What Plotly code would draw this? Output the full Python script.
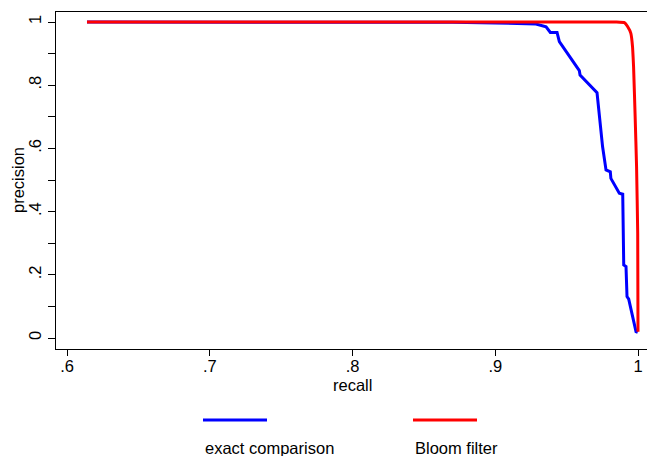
import plotly.graph_objects as go

# exact comparison (blue)
exact_recall = [0.614, 0.80, 0.87, 0.90, 0.92, 0.9285, 0.9356, 0.9386, 0.9433, 0.9449,
                0.9589, 0.9594, 0.9713, 0.9717, 0.9752, 0.9776, 0.9806, 0.9810, 0.9869,
                0.9893, 0.9900, 0.9916, 0.9923, 0.9935, 0.9986, 0.9998]
exact_precision = [1.0, 1.0, 0.999, 0.997, 0.996, 0.9937, 0.985, 0.967, 0.967, 0.938,
                   0.846, 0.832, 0.776, 0.758, 0.605, 0.532, 0.526, 0.505, 0.458,
                   0.455, 0.231, 0.226, 0.131, 0.123, 0.020, 0.018]

# Bloom filter (red)
bloom_recall = [0.614, 0.80, 0.90, 0.985, 0.9905, 0.9927, 0.9950, 0.9962, 0.9969,
                0.9980, 0.9990, 0.9998, 1.0]
bloom_precision = [1.0, 1.0, 1.0, 1.0, 0.998, 0.9855, 0.964, 0.92, 0.859,
                   0.700, 0.542, 0.331, 0.020]

series_names = ["exact comparison", "Bloom filter"]
series_colors = ["#0000FF", "#FF0000"]

x_tickvals = [0.6, 0.7, 0.8, 0.9, 1.0]
x_ticktext = [".6", ".7", ".8", ".9", "1"]
y_tickvals = [0, 0.2, 0.4, 0.6, 0.8, 1.0]
y_ticktext = ["0", ".2", ".4", ".6", ".8", "1"]
y_minor = [0.1, 0.3, 0.5, 0.7, 0.9]

FONT = "Liberation Sans, Arial, sans-serif"
FS = 16.5

fig = go.Figure()
fig.add_trace(go.Scatter(x=exact_recall, y=exact_precision, mode="lines",
                         line=dict(color=series_colors[0], width=3),
                         name=series_names[0], showlegend=False))
fig.add_trace(go.Scatter(x=bloom_recall, y=bloom_precision, mode="lines",
                         line=dict(color=series_colors[1], width=3, shape="spline", smoothing=0.3),
                         name=series_names[1], showlegend=False))

W, H = 647, 456
L, R, T, B = 56, 0, 12, 107
pw, ph = W - L - R, H - T - B

def px(xp):
    return (xp - L) / pw

def py(yp):
    return (H - B - yp) / ph

fig.update_layout(
    width=W, height=H,
    margin=dict(l=L, r=R, t=T, b=B),
    paper_bgcolor="white", plot_bgcolor="white",
    font=dict(family=FONT, size=FS, color="#000000"),
    showlegend=False,
)
fig.update_xaxes(
    range=[0.6 - 11 / 1427.5, 1 + 9 / 1427.5],
    tickvals=x_tickvals, ticktext=x_ticktext,
    ticks="outside", ticklen=6, tickwidth=1, tickcolor="#000000",
    ticklabelstandoff=-4,
    showline=True, linecolor="#000000", linewidth=1.2, mirror=True,
    showgrid=False, zeroline=False,
    tickfont=dict(family=FONT, size=FS),
)
fig.update_yaxes(
    range=[-(349 - 338) / 316, 1 + (22 - 12) / 316],
    tickvals=y_tickvals, ticktext=y_ticktext, tickangle=-90,
    ticks="outside", ticklen=7, tickwidth=1, tickcolor="#000000",
    minor=dict(tickvals=y_minor, ticks="outside", ticklen=7, tickwidth=1, tickcolor="#000000"),
    showline=True, linecolor="#000000", linewidth=1.2,
    showgrid=False, zeroline=False,
    tickfont=dict(family=FONT, size=FS),
)

annotations = [
    dict(text="precision", x=px(18), y=py(180), xref="paper", yref="paper",
         textangle=-90, showarrow=False, xanchor="center", yanchor="middle",
         font=dict(family=FONT, size=FS)),
    dict(text="recall", x=px(352), y=py(385), xref="paper", yref="paper",
         showarrow=False, xanchor="center", yanchor="middle",
         font=dict(family=FONT, size=FS)),
]
shapes = []
legend_x = [203, 413]
for i, name in enumerate(series_names):
    x0 = legend_x[i]
    shapes.append(dict(type="line", xref="paper", yref="paper",
                       x0=px(x0), x1=px(x0 + 64), y0=py(420), y1=py(420),
                       line=dict(color=series_colors[i], width=3)))
    annotations.append(dict(text=name, x=px(x0), y=py(448), xref="paper", yref="paper",
                            showarrow=False, xanchor="left", yanchor="middle",
                            font=dict(family=FONT, size=FS)))
fig.update_layout(annotations=annotations, shapes=shapes)

fig.write_html("out.html",
               config={"displayModeBar": False},
               post_script="document.body.style.margin='0';document.body.style.overflow='hidden';")
